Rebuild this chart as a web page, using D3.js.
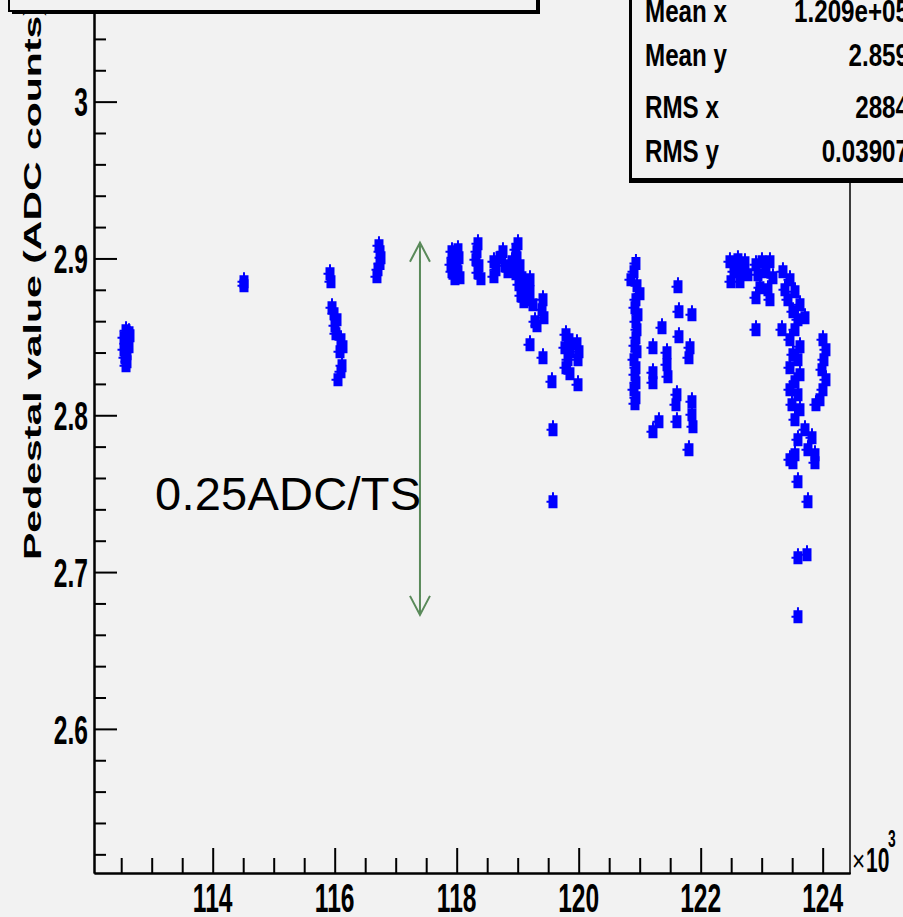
<!DOCTYPE html>
<html>
<head>
<meta charset="utf-8">
<script src="https://cdn.jsdelivr.net/npm/d3@7"></script>
<style>
  body { margin: 0; background: #f2f2f2; }
  text { font-family: "Liberation Sans", Arial, Helvetica, sans-serif; }
</style>
</head>
<body>
<svg width="903" height="917"></svg>
<script>
// time (x10^3) and pedestal value (ADC counts), one array per fill
const fill1 = [[112.579,2.8539],[112.628,2.8526],[112.546,2.8494],[112.611,2.8482],[112.579,2.8456],
  [112.628,2.8437],[112.546,2.8418],[112.595,2.8392],[112.562,2.8367],[112.595,2.8341],[112.579,2.8316],[112.644,2.8507]]
const fill2 = [[114.513,2.8852],[114.513,2.8826]]
const fill3 = [[115.923,2.8903],[115.939,2.8852],[115.956,2.8686],[115.989,2.8648],[116.038,2.8609],[116.005,2.8571],
  [116.021,2.8520],[116.103,2.8482],[116.136,2.8437],[116.087,2.8405],[116.120,2.8316],[116.103,2.8278],[116.054,2.8227]]
const fill4 = [[116.726,2.9081],[116.743,2.9043],[116.759,2.9005],[116.743,2.8967],[116.710,2.8928],[116.693,2.8884]]
const fill5 = [[117.923,2.9043],[118.021,2.9056],[117.939,2.9005],[118.038,2.9005],[117.907,2.8960],[118.005,2.8954],
  [117.923,2.8915],[118.021,2.8915],[117.972,2.8871],[118.054,2.8877],[118.349,2.9094],[118.333,2.9043],[118.316,2.8992],
  [118.365,2.8954],[118.349,2.8909],[118.398,2.8871],[118.611,2.8979],[118.644,2.8928],[118.611,2.8884],[118.710,2.9005],
  [118.759,2.9043],[118.792,2.8954],[118.841,2.8915],[118.907,2.8979],[118.972,2.9056],[119.005,2.9094],[118.989,2.9005],
  [119.038,2.8954],[118.972,2.8903],[119.070,2.8877],[119.021,2.8833],[119.103,2.8801],[119.054,2.8762],[119.103,2.8724],
  [119.120,2.8833],[119.202,2.8788],[119.169,2.8737],[119.251,2.8705],[119.202,2.8864],[119.415,2.8737],[119.399,2.8673],
  [119.431,2.8622],[119.284,2.8596],[119.317,2.8571],[119.202,2.8450],[119.415,2.8367],[119.562,2.8214],[119.579,2.7907],
  [119.579,2.7448],[119.792,2.8514],[119.841,2.8482],[119.775,2.8431],[119.857,2.8405],[119.825,2.8354],[119.792,2.8303],
  [119.857,2.8265],[119.972,2.8456],[120.005,2.8405],[119.989,2.8354],[119.989,2.8195]]
const fill6 = [[120.939,2.8967],[120.907,2.8915],[120.857,2.8864],[120.956,2.8826],[121.005,2.8775],[120.939,2.8737],
  [120.923,2.8686],[120.972,2.8641],[120.939,2.8596],[120.956,2.8545],[120.939,2.8494],[120.923,2.8443],[120.956,2.8405],
  [120.907,2.8354],[120.939,2.8303],[120.923,2.8258],[120.939,2.8207],[120.907,2.8163],[120.939,2.8112],[120.923,2.8073],
  [121.366,2.8558],[121.218,2.8431],[121.448,2.8399],[121.448,2.8322],[121.464,2.8246],[121.218,2.8271],[121.218,2.8207],
  [121.628,2.8820],[121.644,2.8660],[121.857,2.8641],[121.644,2.8501],[121.825,2.8431],[121.808,2.8367],[121.611,2.8131],
  [121.595,2.8067],[121.857,2.8086],[121.857,2.8003],[121.874,2.7927],[121.611,2.7959],[121.316,2.7959],[121.218,2.7895],
  [121.808,2.7780]]
const fill7 = [[122.480,2.8979],[122.611,2.8992],[122.726,2.8973],[122.546,2.8915],[122.677,2.8928],[122.775,2.8896],
  [122.497,2.8852],[122.644,2.8852],[122.907,2.8960],[123.005,2.8979],[123.136,2.8979],[122.939,2.8896],[123.070,2.8915],
  [123.185,2.8877],[122.972,2.8813],[123.103,2.8801],[122.907,2.8750],[123.136,2.8737],[123.349,2.8915],[123.464,2.8864],
  [123.382,2.8801],[123.546,2.8788],[123.431,2.8737],[123.628,2.8705],[123.513,2.8660],[123.710,2.8622],[123.595,2.8609],
  [122.907,2.8545],[123.333,2.8545],[123.546,2.8545],[123.464,2.8482],[123.628,2.8437],[123.513,2.8386],[123.595,2.8354],
  [123.464,2.8303],[123.628,2.8258],[123.546,2.8214],[123.464,2.8163],[123.595,2.8131],[123.497,2.8067],[123.628,2.8035],
  [124.005,2.8482],[124.054,2.8418],[124.021,2.8354],[123.989,2.8290],[124.054,2.8227],[124.005,2.8163],[123.956,2.8099],
  [123.890,2.8067],[123.546,2.7971],[123.710,2.7907],[123.595,2.7844],[123.825,2.7856],[123.759,2.7780],[123.546,2.7748],
  [123.464,2.7716],[123.874,2.7748],[123.513,2.7697],[123.874,2.7697],[123.595,2.7576],[123.759,2.7448],[123.595,2.7091],
  [123.743,2.7110],[123.595,2.6715]]

const yMajor = [2.6, 2.7, 2.8, 2.9, 3.0]
const xMajor = [114, 116, 118, 120, 122, 124]
const statLabels = ['Mean x', 'Mean y', 'RMS x', 'RMS y']
const statValues = ['1.209e+05', '2.859', '2884', '0.03907']

const svg = d3.select('svg')

svg.append('rect')
    .attr('width', 903)
    .attr('height', 917)
    .attr('fill', '#f2f2f2')

const x = d3.scaleLinear().domain([112.054, 124.448]).range([94, 850])
const y = d3.scaleLinear().domain([2.5081, 3.068]).range([873, -5])

// axes
const yMinor = d3.range(2.52, 3.07, 0.02).filter(v => !yMajor.some(m => Math.abs(m - v) < 1e-6))
const xMinor = d3.range(112.5, 124.45, 0.5).filter(v => v % 2 !== 0)

svg.append('g')
    .attr('transform', 'translate(94,0)')
    .call(d3.axisLeft(y).tickValues(yMajor).tickSize(-23).tickSizeOuter(0).tickFormat(''))
svg.append('g')
    .attr('transform', 'translate(94,0)')
    .call(d3.axisLeft(y).tickValues(yMinor).tickSize(-12).tickSizeOuter(0).tickFormat(''))
svg.append('g')
    .attr('transform', 'translate(0,873)')
    .call(d3.axisBottom(x).tickValues(xMajor).tickSize(-25).tickSizeOuter(0).tickFormat(''))
svg.append('g')
    .attr('transform', 'translate(0,873)')
    .call(d3.axisBottom(x).tickValues(xMinor).tickSize(-15).tickSizeOuter(0).tickFormat(''))

svg.selectAll('.domain, .tick line')
    .attr('stroke', 'black')
    .attr('stroke-width', 2)

svg.append('line')
    .attr('x1', 850).attr('x2', 850)
    .attr('y1', 180).attr('y2', 874)
    .attr('stroke', 'black')
    .attr('stroke-width', 1.5)

svg.selectAll('.ylab')
    .data(yMajor)
    .enter().append('text')
        .attr('transform', d => `translate(88,${y(d)}) scale(0.6,1)`)
        .attr('dy', '0.36em')
        .attr('text-anchor', 'end')
        .attr('font-size', 41)
        .attr('font-weight', 'bold')
        .text(d => d === 3 ? '3' : d.toFixed(1))

svg.selectAll('.xlab')
    .data(xMajor)
    .enter().append('text')
        .attr('transform', d => `translate(${x(d)},912) scale(0.6,1)`)
        .attr('text-anchor', 'middle')
        .attr('font-size', 41)
        .attr('font-weight', 'bold')
        .text(d => d)

svg.append('text')
    .attr('transform', 'translate(852,871) scale(0.75,1)')
    .attr('font-size', 30)
    .text('×')
svg.append('text')
    .attr('transform', 'translate(866,872) scale(0.6,1)')
    .attr('font-size', 35)
    .attr('font-weight', 'bold')
    .text('10')
svg.append('text')
    .attr('transform', 'translate(888,847) scale(0.6,1)')
    .attr('font-size', 23)
    .attr('font-weight', 'bold')
    .text('3')

svg.append('text')
    .attr('transform', 'translate(41,560) rotate(-90) scale(1,0.6)')
    .attr('font-size', 41)
    .attr('font-weight', 'bold')
    .text('Pedestal value (ADC counts)')

// markers
const points = [].concat(fill1, fill2, fill3, fill4, fill5, fill6, fill7)
svg.append('g')
    .selectAll('path')
    .data(points)
    .enter().append('path')
        .attr('transform', d => `translate(${x(d[0])},${y(d[1])})`)
        .attr('d', 'M-4.5,-6.5h3.5v-3h2v3h3.5v13h-9v-5.5h-2v-2h2z')
        .attr('fill', '#0000ff')

// title box (top left)
svg.append('rect')
    .attr('x', 12).attr('y', -20).attr('width', 528).attr('height', 34)
    .attr('fill', 'black')
svg.append('rect')
    .attr('x', 9).attr('y', -20).attr('width', 528).attr('height', 31)
    .attr('fill', '#f2f2f2')
    .attr('stroke', 'black')
    .attr('stroke-width', 2)

// stats box (top right)
svg.append('rect')
    .attr('x', 629).attr('y', -20).attr('width', 300).attr('height', 203)
    .attr('fill', 'black')
svg.append('rect')
    .attr('x', 631).attr('y', -20).attr('width', 300).attr('height', 199)
    .attr('fill', '#f2f2f2')
    .attr('stroke', 'black')
    .attr('stroke-width', 2)

const rowY = [22, 66, 118, 162]
svg.selectAll('.slab')
    .data(statLabels)
    .enter().append('text')
        .attr('transform', (d, i) => `translate(645,${rowY[i]}) scale(0.78,1)`)
        .attr('font-size', 31)
        .attr('font-weight', 'bold')
        .text(d => d)
svg.selectAll('.sval')
    .data(statValues)
    .enter().append('text')
        .attr('transform', (d, i) => `translate(909,${rowY[i]}) scale(0.78,1)`)
        .attr('text-anchor', 'end')
        .attr('font-size', 31)
        .attr('font-weight', 'bold')
        .text(d => d)

// annotation arrow
const ax = x(117.398)
const aTop = y(2.910)
const aBot = y(2.6727)
const arrow = d3.path()
arrow.moveTo(ax, aTop); arrow.lineTo(ax, aBot)
arrow.moveTo(ax - 10, aTop + 19); arrow.lineTo(ax, aTop); arrow.lineTo(ax + 10, aTop + 19)
arrow.moveTo(ax - 10, aBot - 19); arrow.lineTo(ax, aBot); arrow.lineTo(ax + 10, aBot - 19)
svg.append('path')
    .attr('d', arrow.toString())
    .attr('fill', 'none')
    .attr('stroke', '#5a8a5a')
    .attr('stroke-width', 2)

svg.append('text')
    .attr('x', 155)
    .attr('y', 510)
    .attr('font-size', 47)
    .attr('textLength', 266)
    .text('0.25ADC/TS')
</script>
</body>
</html>
